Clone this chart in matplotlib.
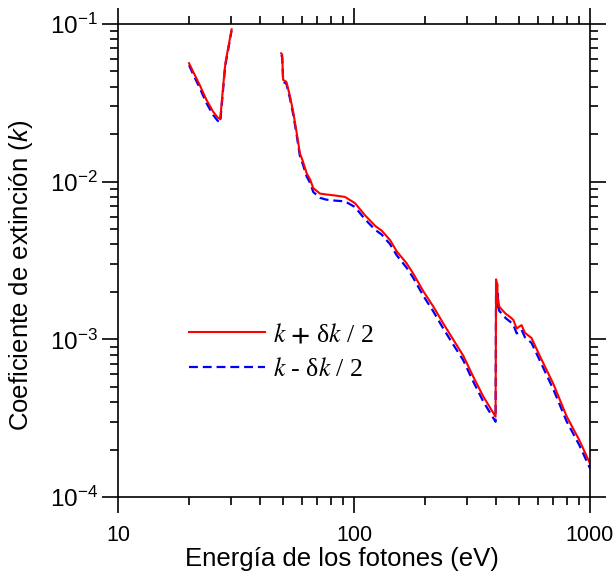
import matplotlib
matplotlib.use("Agg")
import matplotlib.pyplot as plt
from matplotlib.font_manager import FontProperties
from matplotlib.ticker import FixedLocator, FixedFormatter, LogLocator, NullFormatter

plt.rcParams["font.family"] = ["Liberation Sans", "DejaVu Sans"]
plt.rcParams["mathtext.fontset"] = "custom"
plt.rcParams["mathtext.rm"] = "Liberation Sans"
plt.rcParams["mathtext.it"] = "Liberation Sans:italic"
plt.rcParams["mathtext.default"] = "regular"

# below the 30 eV edge
e_low = [20.0, 20.8, 22.2, 23.7, 25.3, 26.4, 27.1, 28.3, 28.6, 29.9, 30.3]
kp_low = [0.0564, 0.0499, 0.0410, 0.0330, 0.0278, 0.0256, 0.0249, 0.0510, 0.0580, 0.0831, 0.0925]
km_low = [0.0548, 0.0481, 0.0393, 0.0315, 0.0265, 0.0244, 0.0237, 0.0495, 0.0565, 0.0815, 0.0910]

# from ~49 eV up to 1 keV (edge near 400 eV)
e_high = [49.1, 49.6, 50.1, 51.7, 53.6, 55.4, 57.2, 59.0, 60.7, 63.0, 65.2, 67.2,
          71.8, 76.0, 81.7, 91.6, 101, 111, 123, 131, 142, 152, 167, 178, 197,
          217, 239, 264, 290, 320, 353, 398, 400, 402, 403, 404.5, 406, 408, 412,
          422, 440, 460, 473, 489, 500, 513, 530, 565, 614, 700, 796, 900, 1000]
kp_high = [0.0652, 0.0640, 0.0442, 0.0430, 0.0346, 0.0271, 0.0203, 0.0151, 0.0135, 0.0113, 0.0103, 0.0091,
           0.0084, 0.0083, 0.0082, 0.0080, 0.0073, 0.00615, 0.00524, 0.00489, 0.00427, 0.0036, 0.00304, 0.00262, 0.00201,
           0.00161, 0.00126, 0.00099, 0.00079, 0.00058, 0.000434, 0.000323, 0.00240, 0.00230, 0.00185, 0.00225, 0.00170, 0.00180, 0.00162,
           0.00155, 0.00145, 0.00138, 0.00133, 0.00117, 0.00120, 0.00123, 0.00110, 0.00102, 0.00078, 0.00052, 0.000325, 0.00023, 0.000163]
km_high = [0.0635, 0.0620, 0.0430, 0.0418, 0.0335, 0.0262, 0.0196, 0.0145, 0.0129, 0.0108, 0.0098, 0.0086,
           0.0079, 0.0077, 0.0076, 0.0075, 0.0069, 0.00580, 0.00495, 0.00462, 0.00402, 0.0034, 0.00285, 0.00246, 0.00188,
           0.00150, 0.00117, 0.00092, 0.00074, 0.00054, 0.000403, 0.000300, 0.00225, 0.00175, 0.00215, 0.00160, 0.00195, 0.00165, 0.00152,
           0.00146, 0.00136, 0.00129, 0.00124, 0.00109, 0.00112, 0.00115, 0.00103, 0.00095, 0.00073, 0.00048, 0.000302, 0.000214, 0.000152]

xticks = [10, 100, 1000]
xticklabels = ["10", "100", "1000"]

fig = plt.figure(figsize=(6.14, 5.76), dpi=100, facecolor="white")
ax = fig.add_axes([0.1922, 0.1372, 0.7687, 0.8211])

red, blue = "#ff0000", "#0000ff"
ax.plot(e_low, km_low, color=blue, lw=1.6, dashes=(4, 2.2))
ax.plot(e_high, km_high, color=blue, lw=1.6, dashes=(4, 2.2), label=r"$\mathit{k}$ - δ$\mathit{k}$ / 2")
ax.plot(e_low, kp_low, color=red, lw=1.5)
ax.plot(e_high, kp_high, color=red, lw=1.5, label=r"$\mathit{k}$ $\mathbf{+}$ δ$\mathit{k}$ / 2")

ax.set_xscale("log"); ax.set_yscale("log")
ax.set_xlim(10, 1000); ax.set_ylim(1e-4, 1e-1)
ax.xaxis.set_major_locator(FixedLocator(xticks))
ax.xaxis.set_major_formatter(FixedFormatter(xticklabels))
ax.xaxis.set_minor_locator(LogLocator(base=10, subs=range(2, 10)))
ax.xaxis.set_minor_formatter(NullFormatter())
ax.yaxis.set_minor_locator(LogLocator(base=10, subs=range(2, 10)))
ax.yaxis.set_minor_formatter(NullFormatter())

for s in ax.spines.values():
    s.set_linewidth(1.2)
ax.tick_params(which="both", direction="out", top=True, right=True, width=1.2)
ax.tick_params(which="major", length=11.5)
ax.tick_params(which="minor", length=6)
ax.tick_params(axis="x", which="major", pad=9, labelsize=15.5)
ax.tick_params(axis="y", which="major", pad=3, labelsize=17.5)

ax.set_xlabel("Energía de los fotones (eV)", fontsize=18.5)
ax.set_ylabel(r"Coeficiente de extinción ($\mathit{k}$)", fontsize=18.5)
ax.xaxis.set_label_coords(0.475, -0.106)
ax.yaxis.set_label_coords(-0.176, 0.469)

h, l = ax.get_legend_handles_labels()
leg_font = FontProperties(family="Liberation Serif", size=18.5, math_fontfamily="stix")
ax.legend(h[::-1], l[::-1], loc="center left", bbox_to_anchor=(0.150, 0.3076), frameon=False,
          prop=leg_font, handlelength=2.95, handletextpad=0.33, labelspacing=0.45,
          borderpad=0, borderaxespad=0)

fig.savefig("out.png", dpi=100, facecolor="white")
